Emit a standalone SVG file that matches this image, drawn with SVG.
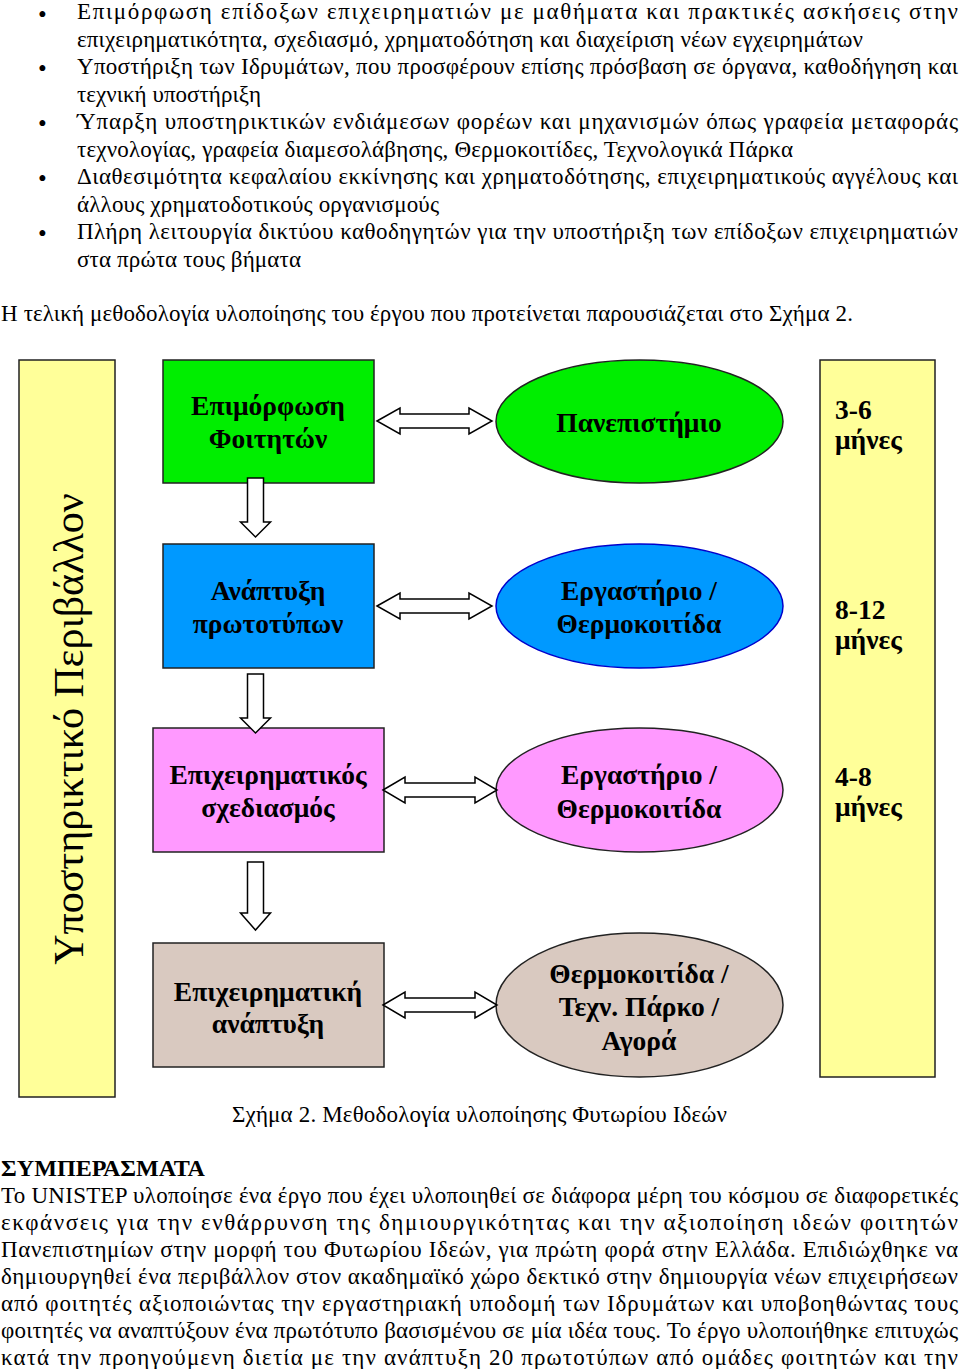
<svg xmlns="http://www.w3.org/2000/svg" width="960" height="1369" viewBox="0 0 960 1369">
<style>
.t{font-family:"Liberation Serif","Times New Roman",serif;font-size:23px;fill:#000}
.bl{font-family:"Liberation Serif","Times New Roman",serif;font-size:25px;fill:#000}
.b{font-family:"Liberation Serif","Times New Roman",serif;font-size:27.5px;font-weight:bold;fill:#000}
.box{stroke:#222;stroke-width:1.5}
.arr{fill:#fff;stroke:#000;stroke-width:1.5;stroke-linejoin:miter}
</style>
<rect width="960" height="1369" fill="#fff"/>
<g id="intro">
<text class="bl" x="38" y="22.5">•</text>
<text class="t" x="77" y="19" textLength="881" lengthAdjust="spacing">Επιμόρφωση επίδοξων επιχειρηματιών με μαθήματα και πρακτικές ασκήσεις στην</text>
<text class="t" x="77" y="46.5" textLength="786" lengthAdjust="spacing">επιχειρηματικότητα, σχεδιασμό, χρηματοδότηση και διαχείριση νέων εγχειρημάτων</text>
<text class="bl" x="38" y="77">•</text>
<text class="t" x="77" y="74" textLength="881" lengthAdjust="spacing">Υποστήριξη των Ιδρυμάτων, που προσφέρουν επίσης πρόσβαση σε όργανα, καθοδήγηση και</text>
<text class="t" x="77" y="101.5" textLength="184" lengthAdjust="spacing">τεχνική υποστήριξη</text>
<text class="bl" x="38" y="132">•</text>
<text class="t" x="77" y="129" textLength="881" lengthAdjust="spacing">Ύπαρξη υποστηρικτικών ενδιάμεσων φορέων και μηχανισμών όπως γραφεία μεταφοράς</text>
<text class="t" x="77" y="156.5" textLength="716" lengthAdjust="spacing">τεχνολογίας, γραφεία διαμεσολάβησης, Θερμοκοιτίδες, Τεχνολογικά Πάρκα</text>
<text class="bl" x="38" y="187">•</text>
<text class="t" x="77" y="184" textLength="881" lengthAdjust="spacing">Διαθεσιμότητα κεφαλαίου εκκίνησης και χρηματοδότησης, επιχειρηματικούς αγγέλους και</text>
<text class="t" x="77" y="211.5" textLength="362" lengthAdjust="spacing">άλλους χρηματοδοτικούς οργανισμούς</text>
<text class="bl" x="38" y="242">•</text>
<text class="t" x="77" y="239" textLength="881" lengthAdjust="spacing">Πλήρη λειτουργία δικτύου καθοδηγητών για την υποστήριξη των επίδοξων επιχειρηματιών</text>
<text class="t" x="77" y="266.5" textLength="224" lengthAdjust="spacing">στα πρώτα τους βήματα</text>
<text class="t" x="1" y="321" textLength="852" lengthAdjust="spacing">Η τελική μεθοδολογία υλοποίησης του έργου που προτείνεται παρουσιάζεται στο Σχήμα 2.</text>
</g>
<g id="support-env">
<rect x="19" y="360" width="96" height="737" fill="#ffff99" class="box"/>
<text class="t" style="font-size:42px" transform="translate(83,729) rotate(-90)" text-anchor="middle">Υποστηρικτικό Περιβάλλον</text>
</g>
<g id="duration">
<rect x="820" y="360" width="115" height="717" fill="#ffff99" class="box"/>
<text class="b" x="835" y="419">3-6</text>
<text class="b" x="835" y="449">μήνες</text>
<text class="b" x="835" y="619">8-12</text>
<text class="b" x="835" y="649">μήνες</text>
<text class="b" x="835" y="786">4-8</text>
<text class="b" x="835" y="816">μήνες</text>
</g>
<g id="n-training">
<rect x="163" y="360" width="211" height="123" fill="#00ee00" class="box"/>
<text class="b" x="268" y="415" text-anchor="middle">Επιμόρφωση</text>
<text class="b" x="268" y="448" text-anchor="middle">Φοιτητών</text>
</g>
<g id="n-prototypes">
<rect x="163" y="544" width="211" height="124" fill="#0099ff" class="box"/>
<text class="b" x="268" y="600" text-anchor="middle">Ανάπτυξη</text>
<text class="b" x="268" y="633" text-anchor="middle">πρωτοτύπων</text>
</g>
<g id="n-plan">
<rect x="153" y="728" width="231" height="124" fill="#ff99ff" class="box"/>
<text class="b" x="268" y="784" text-anchor="middle">Επιχειρηματικός</text>
<text class="b" x="268" y="817" text-anchor="middle">σχεδιασμός</text>
</g>
<g id="n-business">
<rect x="153" y="943" width="231" height="124" fill="#d9c9c0" class="box"/>
<text class="b" x="268" y="1001" text-anchor="middle">Επιχειρηματική</text>
<text class="b" x="268" y="1033" text-anchor="middle">ανάπτυξη</text>
</g>
<g id="e-university">
<ellipse cx="639.5" cy="421.5" rx="143.5" ry="61.5" fill="#00ee00" stroke="#222" stroke-width="1.5"/>
<text class="b" x="639" y="432" text-anchor="middle">Πανεπιστήμιο</text>
</g>
<g id="e-lab1">
<ellipse cx="639.5" cy="606" rx="143.5" ry="62" fill="#0099ff" stroke="#0000cc" stroke-width="1.5"/>
<text class="b" x="639" y="600" text-anchor="middle">Εργαστήριο /</text>
<text class="b" x="639" y="633" text-anchor="middle">Θερμοκοιτίδα</text>
</g>
<g id="e-lab2">
<ellipse cx="639.5" cy="790" rx="143.5" ry="62" fill="#ff99ff" stroke="#222" stroke-width="1.5"/>
<text class="b" x="639" y="784" text-anchor="middle">Εργαστήριο /</text>
<text class="b" x="639" y="818" text-anchor="middle">Θερμοκοιτίδα</text>
</g>
<g id="e-park">
<ellipse cx="639.5" cy="1005" rx="143.5" ry="72" fill="#d9c9c0" stroke="#222" stroke-width="1.5"/>
<text class="b" x="639" y="983" text-anchor="middle">Θερμοκοιτίδα /</text>
<text class="b" x="639" y="1016" text-anchor="middle">Τεχν. Πάρκο /</text>
<text class="b" x="639" y="1050" text-anchor="middle">Αγορά</text>
</g>
<g id="connectors">
<polygon class="arr" points="377,421 400,408 400,414 469,414 469,408 492,421 469,434 469,428 400,428 400,434"/>
<polygon class="arr" points="377,606 400,593 400,599 469,599 469,593 492,606 469,619 469,613 400,613 400,619"/>
<polygon class="arr" points="383,790 405,777 405,783 475,783 475,777 497,790 475,803 475,797 405,797 405,803"/>
<polygon class="arr" points="383,1005 405,992 405,998 475,998 475,992 497,1005 475,1018 475,1012 405,1012 405,1018"/>
<polygon class="arr" points="247.5,478 263.5,478 263.5,522 270.5,522 255.5,537 240.5,522 247.5,522"/>
<polygon class="arr" points="247.5,674 263.5,674 263.5,718 270.5,718 255.5,733 240.5,718 247.5,718"/>
<polygon class="arr" points="247.5,862 263.5,862 263.5,913 270.5,913 255.5,930 240.5,913 247.5,913"/>
</g>
<g id="caption">
<text class="t" x="232" y="1122" textLength="495" lengthAdjust="spacing">Σχήμα 2. Μεθοδολογία υλοποίησης Φυτωρίου Ιδεών</text>
</g>
<g id="conclusions">
<text class="t" x="1" y="1176" font-weight="bold" textLength="204" lengthAdjust="spacingAndGlyphs">ΣΥΜΠΕΡΑΣΜΑΤΑ</text>
<text class="t" x="1" y="1203" textLength="957" lengthAdjust="spacing">Το UNISTEP υλοποίησε ένα έργο που έχει υλοποιηθεί σε διάφορα μέρη του κόσμου σε διαφορετικές</text>
<text class="t" x="1" y="1230" textLength="957" lengthAdjust="spacing">εκφάνσεις για την ενθάρρυνση της δημιουργικότητας και την αξιοποίηση ιδεών φοιτητών</text>
<text class="t" x="1" y="1257" textLength="957" lengthAdjust="spacing">Πανεπιστημίων στην μορφή του Φυτωρίου Ιδεών, για πρώτη φορά στην Ελλάδα. Επιδιώχθηκε να</text>
<text class="t" x="1" y="1284" textLength="957" lengthAdjust="spacing">δημιουργηθεί ένα περιβάλλον στον ακαδημαϊκό χώρο δεκτικό στην δημιουργία νέων επιχειρήσεων</text>
<text class="t" x="1" y="1311" textLength="957" lengthAdjust="spacing">από φοιτητές αξιοποιώντας την εργαστηριακή υποδομή των Ιδρυμάτων και υποβοηθώντας τους</text>
<text class="t" x="1" y="1338" textLength="957" lengthAdjust="spacing">φοιτητές να αναπτύξουν ένα πρωτότυπο βασισμένου σε μία ιδέα τους. Το έργο υλοποιήθηκε επιτυχώς</text>
<text class="t" x="1" y="1365" textLength="957" lengthAdjust="spacing">κατά την προηγούμενη διετία με την ανάπτυξη 20 πρωτοτύπων από ομάδες φοιτητών και την</text>
</g>
</svg>
